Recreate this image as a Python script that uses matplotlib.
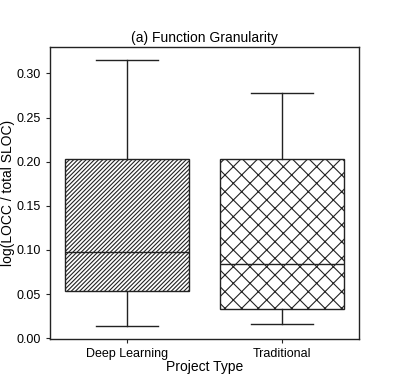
import matplotlib
matplotlib.use('Agg')
import matplotlib.pyplot as plt

plt.rcParams['font.family'] = ['Liberation Sans', 'DejaVu Sans']
plt.rcParams['hatch.linewidth'] = 0.8
plt.rcParams['hatch.color'] = '#222222'

# box statistics
categories = ['Deep Learning', 'Traditional']
whisker_low = [0.0139, 0.0162]
q1 = [0.0536, 0.0335]
median = [0.0974, 0.0841]
q3 = [0.2034, 0.2030]
whisker_high = [0.3155, 0.2780]
hatches = ['////////', 'xx']

stats = []
for i, name in enumerate(categories):
    stats.append({'label': name, 'whislo': whisker_low[i], 'q1': q1[i],
                  'med': median[i], 'q3': q3[i], 'whishi': whisker_high[i],
                  'fliers': []})

fig = plt.figure(figsize=(3.99, 3.88), dpi=100)
ax = fig.add_axes([0.125, 0.126, 0.775, 0.754])

lw = 1.0
bp = ax.bxp(stats, positions=[0, 1], widths=0.8, patch_artist=True,
            showfliers=False,
            boxprops=dict(facecolor='white', edgecolor='#222222', linewidth=lw),
            medianprops=dict(color='#222222', linewidth=lw),
            whiskerprops=dict(color='#222222', linewidth=lw),
            capprops=dict(color='#222222', linewidth=lw),
            capwidths=0.4)
for box, h in zip(bp['boxes'], hatches):
    box.set_hatch(h)

ax.set_xlim(-0.5, 1.5)
ax.set_ylim(-0.001, 0.3305)
ax.set_yticks([0.0, 0.05, 0.10, 0.15, 0.20, 0.25, 0.30])
ax.set_yticklabels([f'{v:.2f}' for v in ax.get_yticks()])
ax.tick_params(labelsize=9, length=3, width=0.8, color='#222222')
for s in ax.spines.values():
    s.set_linewidth(1.0)
    s.set_color('#222222')

ax.set_title('(a) Function Granularity', fontsize=10, pad=3)
ax.set_xlabel('Project Type', fontsize=10, labelpad=0)
ax.set_ylabel('log(LOCC / total SLOC)', fontsize=10, labelpad=1)

fig.savefig('out.png', dpi=100)
